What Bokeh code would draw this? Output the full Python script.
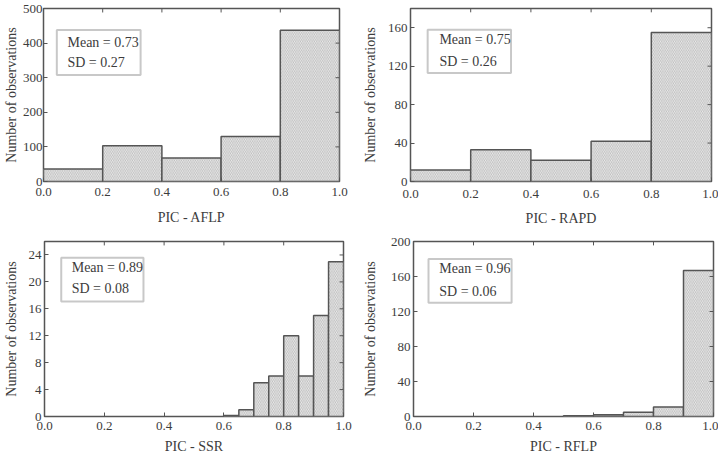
from bokeh.plotting import figure
from bokeh.layouts import column, row
from bokeh.models import (FixedTicker, BoxAnnotation, Label,
                          Range1d, PrintfTickFormatter)
from bokeh.embed import file_html
from bokeh.resources import INLINE

# PIC histograms for four marker systems
aflp_edges = [0.0, 0.2, 0.4, 0.6, 0.8, 1.0]
aflp_counts = [36, 103, 68, 130, 437]

rapd_edges = [0.0, 0.2, 0.4, 0.6, 0.8, 1.0]
rapd_counts = [12, 33, 22, 42, 155]

ssr_edges = [0.60, 0.65, 0.70, 0.75, 0.80, 0.85, 0.90, 0.95, 1.00]
ssr_counts = [0.15, 1, 5, 6, 12, 6, 15, 23]

rflp_edges = [0.5, 0.6, 0.7, 0.8, 0.9, 1.0]
rflp_counts = [1, 2, 5, 11, 167]

x_ticks = [0.0, 0.2, 0.4, 0.6, 0.8, 1.0]
aflp_yticks = [0, 100, 200, 300, 400, 500]
rapd_yticks = [0, 40, 80, 120, 160]
ssr_yticks = [0, 4, 8, 12, 16, 20, 24]
rflp_yticks = [0, 40, 80, 120, 160, 200]

stats = {
    "AFLP": ("Mean = 0.73", "SD = 0.27"),
    "RAPD": ("Mean = 0.75", "SD = 0.26"),
    "SSR": ("Mean = 0.89", "SD = 0.08"),
    "RFLP": ("Mean = 0.96", "SD = 0.06"),
}

FONT = "Liberation Serif"
TEXT = "#3c3c3c"
EDGE = "#555555"
W, H = 359, 228
TICK = 4  # inward tick length, px


def panel(name, edges, counts, ymax, yticks, borders, standoffs, box, text_pos):
    left, right, top, bottom = borders
    p = figure(width=W, height=H, output_backend="svg", toolbar_location=None,
               x_range=Range1d(0, 1), y_range=Range1d(0, ymax),
               min_border_left=left, min_border_right=right,
               min_border_top=top, min_border_bottom=bottom)
    p.grid.visible = False
    p.outline_line_color = EDGE
    p.outline_line_width = 1.5
    p.background_fill_color = "white"
    p.border_fill_color = "white"

    p.quad(left=edges[:-1], right=edges[1:], bottom=0, top=counts,
           fill_color="#ededed", line_color=EDGE, line_width=1.5,
           hatch_pattern="\\", hatch_color="#a0a0a0", hatch_scale=3.5,
           hatch_weight=0.6)

    xa = p.xaxis[0]
    xa.ticker = FixedTicker(ticks=x_ticks)
    xa.formatter = PrintfTickFormatter(format="%.1f")
    xa.axis_label = "PIC - " + name
    ya = p.yaxis[0]
    ya.ticker = FixedTicker(ticks=yticks)
    ya.axis_label = "Number of observations"
    for ax in (xa, ya):
        ax.axis_line_color = None
        ax.major_tick_in = TICK
        ax.major_tick_out = 0
        ax.major_tick_line_color = EDGE
        ax.minor_tick_line_color = None
        ax.major_label_text_font = FONT
        ax.major_label_text_font_size = "13px"
        ax.major_label_text_color = TEXT
        ax.axis_label_text_font = FONT
        ax.axis_label_text_font_size = "14px"
        ax.axis_label_text_font_style = "normal"
        ax.axis_label_text_color = TEXT
    xa.major_label_standoff = standoffs[0]
    xa.axis_label_standoff = standoffs[1]
    ya.major_label_standoff = standoffs[2]
    ya.axis_label_standoff = standoffs[3]

    # inward ticks along the top and right edges of the frame
    fw = W - left - right
    fh = H - top - bottom
    dy = TICK * ymax / fh
    dx = TICK * 1.0 / fw
    tx_inner = x_ticks[1:-1]
    ty_inner = [t for t in yticks if 0 < t < ymax]
    p.segment(x0=tx_inner, x1=tx_inner, y0=[ymax] * len(tx_inner),
              y1=[ymax - dy] * len(tx_inner), line_color=EDGE, line_width=1)
    p.segment(x0=[1.0] * len(ty_inner), x1=[1.0 - dx] * len(ty_inner),
              y0=ty_inner, y1=ty_inner, line_color=EDGE, line_width=1)

    bx0, bx1, by0, by1 = box
    p.add_layout(BoxAnnotation(left=bx0, right=bx1, bottom=by0, top=by1,
                               fill_color=None, line_color="#4a4a4a",
                               line_width=2))
    tx, ty_mean, ty_sd = text_pos
    for txt, ty in zip(stats[name], (ty_mean, ty_sd)):
        p.add_layout(Label(x=tx, y=ty, text=txt, text_font=FONT,
                           text_font_size="14px", text_color=TEXT,
                           text_baseline="middle", text_align="left"))
    return p


p1 = panel("AFLP", aflp_edges, aflp_counts, 500, aflp_yticks,
           (43, 20, 8, 46), (6, 11, 1, 1),
           (0.045, 0.328, 308, 438), (0.081, 403, 345))
p2 = panel("RAPD", rapd_edges, rapd_counts, 180, rapd_yticks,
           (50, 7, 5, 42), (8, 10, 3, 7),
           (0.057, 0.334, 113, 158), (0.096, 148, 124.5))
p3 = panel("SSR", ssr_edges, ssr_counts, 26, ssr_yticks,
           (39, 16, 13, 36), (5, 6, 3, 7),
           (0.056, 0.331, 17.1, 23.6), (0.091, 22.2, 19.0))
p4 = panel("RFLP", rflp_edges, rflp_counts, 200, rflp_yticks,
           (52, 5, 11, 37), (5, 6, 3, 10),
           (0.050, 0.327, 130, 180), (0.086, 169, 142.6))

layout = column(row(p1, p2), row(p3, p4))

with open("out.html", "w") as f:
    f.write(file_html(layout, INLINE))
